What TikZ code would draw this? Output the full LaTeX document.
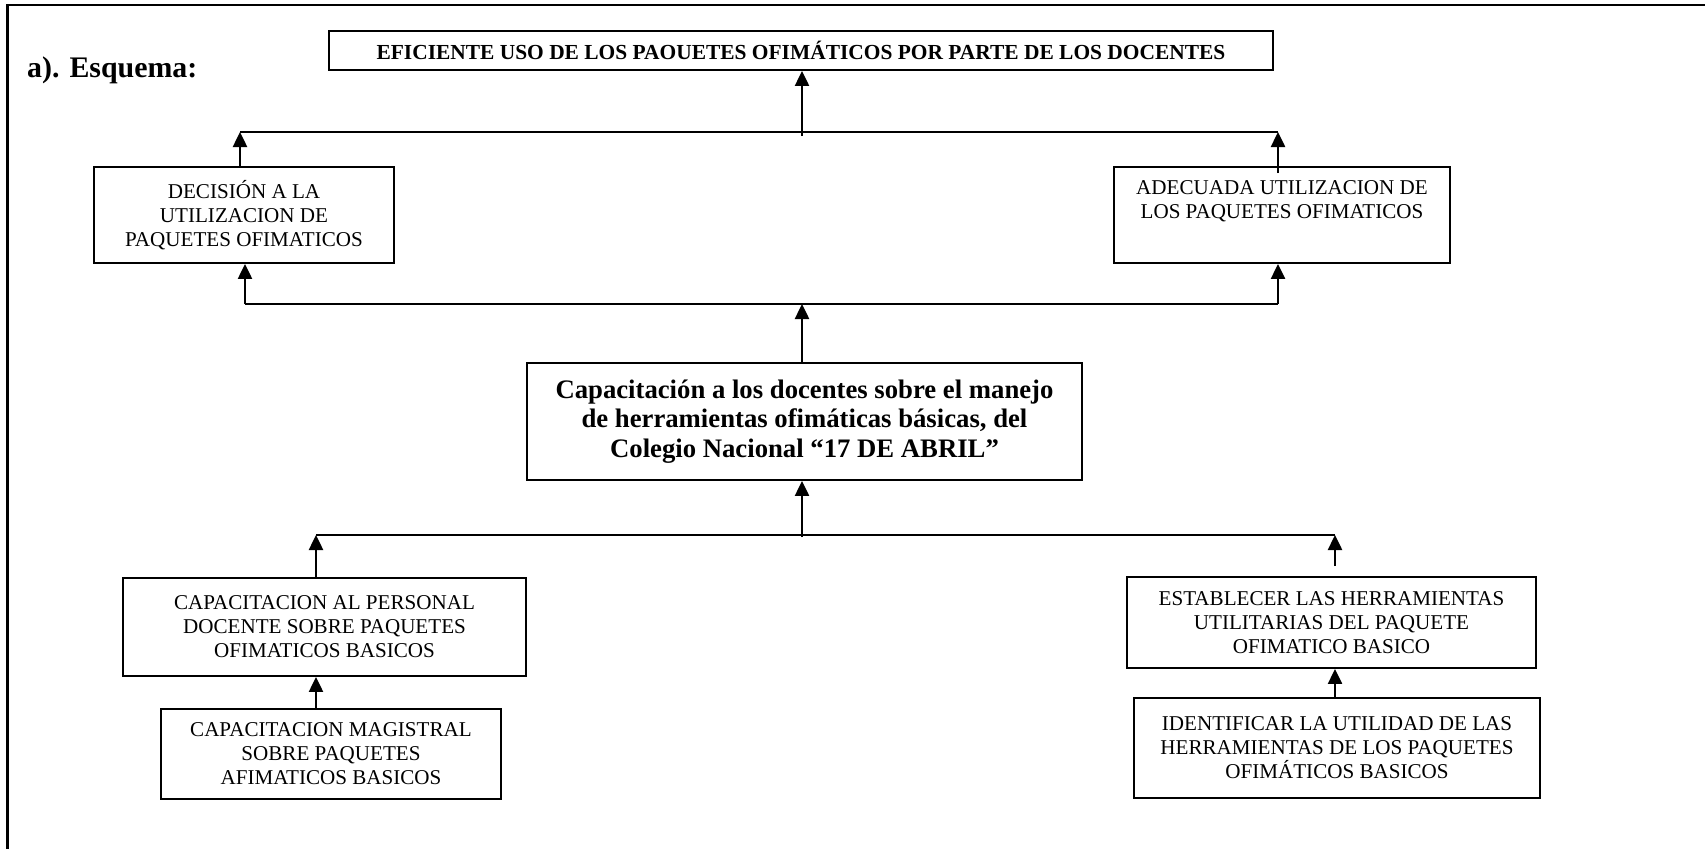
\documentclass[tikz,border=0pt]{standalone}
\usepackage{fontspec}
\setmainfont{Liberation Serif}
\usetikzlibrary{arrows.meta}
\tikzset{
  box/.style={draw, line width=0.04cm, rectangle, inner sep=0pt, align=center,
    font=\fontsize{12}{13.6}\selectfont},
  arr/.style={line width=0.05cm, -{Triangle[width=0.28cm,length=0.3cm]}},
  conn/.style={line width=0.05cm},
}
\begin{document}
\begin{tikzpicture}[x=0.02cm,y=-0.02cm]
\useasboundingbox (0,0) rectangle (1705,849);
\draw[line width=0.05cm] (7.5,849) -- (7.5,5) -- (1705,5);
\node[anchor=west, font=\fontsize{17}{19}\bfseries] (esq) at (21,70) {a). Esquema:};

\node[box, minimum width=18.88cm, minimum height=0.78cm, font=\fontsize{12.2}{13.5}\bfseries] (top) at (801,50.5)
  {EFICIENTE USO DE LOS PAOUETES OFIMÁTICOS POR PARTE DE LOS DOCENTES};
\node[box, minimum width=6cm, minimum height=1.92cm] (dec) at (244,215)
  {DECISIÓN A LA\\UTILIZACION DE\\PAQUETES OFIMATICOS};
\node[box, minimum width=6.72cm, minimum height=1.92cm] (ade) at (1282,215)
  {ADECUADA UTILIZACION DE\\LOS PAQUETES OFIMATICOS\\\strut};
\node[box, minimum width=11.1cm, minimum height=2.34cm, font=\fontsize{15.2}{16.8}\bfseries] (cen) at (804.5,421.5)
  {Capacitación a los docentes sobre el manejo\\de herramientas ofimáticas básicas, del\\Colegio Nacional “17 DE ABRIL”};
\node[box, minimum width=8.06cm, minimum height=1.96cm] (cap) at (324.5,627)
  {CAPACITACION AL PERSONAL\\DOCENTE SOBRE PAQUETES\\OFIMATICOS BASICOS};
\node[box, minimum width=6.8cm, minimum height=1.8cm] (mag) at (331,754)
  {CAPACITACION MAGISTRAL\\SOBRE PAQUETES\\AFIMATICOS BASICOS};
\node[box, minimum width=8.18cm, minimum height=1.82cm] (est) at (1331.5,622.5)
  {ESTABLECER LAS HERRAMIENTAS\\UTILITARIAS DEL PAQUETE\\OFIMATICO BASICO};
\node[box, minimum width=8.12cm, minimum height=2.0cm] (ide) at (1337,748)
  {IDENTIFICAR LA UTILIDAD DE LAS\\HERRAMIENTAS DE LOS PAQUETES\\OFIMÁTICOS BASICOS};

% level 1 junction
\coordinate (j1l) at (240,132);
\coordinate (j1r) at (1278,132);
\coordinate (j1m) at (802,136);
\draw[conn] (j1l) -- (j1r);
\draw[arr] (j1m) -- (j1m |- top.south);
\draw[arr] (dec.north -| j1l) -- (j1l);
\draw[arr] ([yshift=-0.14cm]ade.north -| j1r) -- (j1r);

% level 2 junction
\coordinate (j2l) at (245,304);
\coordinate (j2r) at (1278,304);
\coordinate (j2m) at (802,304);
\draw[conn] (j2l) -- (j2r);
\draw[arr] (j2l) -- (j2l |- dec.south);
\draw[arr] (j2r) -- (j2r |- ade.south);
\draw[arr] (cen.north -| j2m) -- (j2m);

% level 3 junction
\coordinate (j3l) at (316,535);
\coordinate (j3r) at (1335,535);
\coordinate (j3m) at (802,537);
\draw[conn] (j3l) -- (j3r);
\draw[arr] (j3m) -- (j3m |- cen.south);
\draw[arr] (cap.north -| j3l) -- (j3l);
\draw[arr] ([yshift=0.2cm]est.north -| j3r) -- (j3r);
\draw[arr] (mag.north -| j3l) -- (cap.south -| j3l);
\draw[arr] (ide.north -| j3r) -- (est.south -| j3r);
\end{tikzpicture}
\end{document}
